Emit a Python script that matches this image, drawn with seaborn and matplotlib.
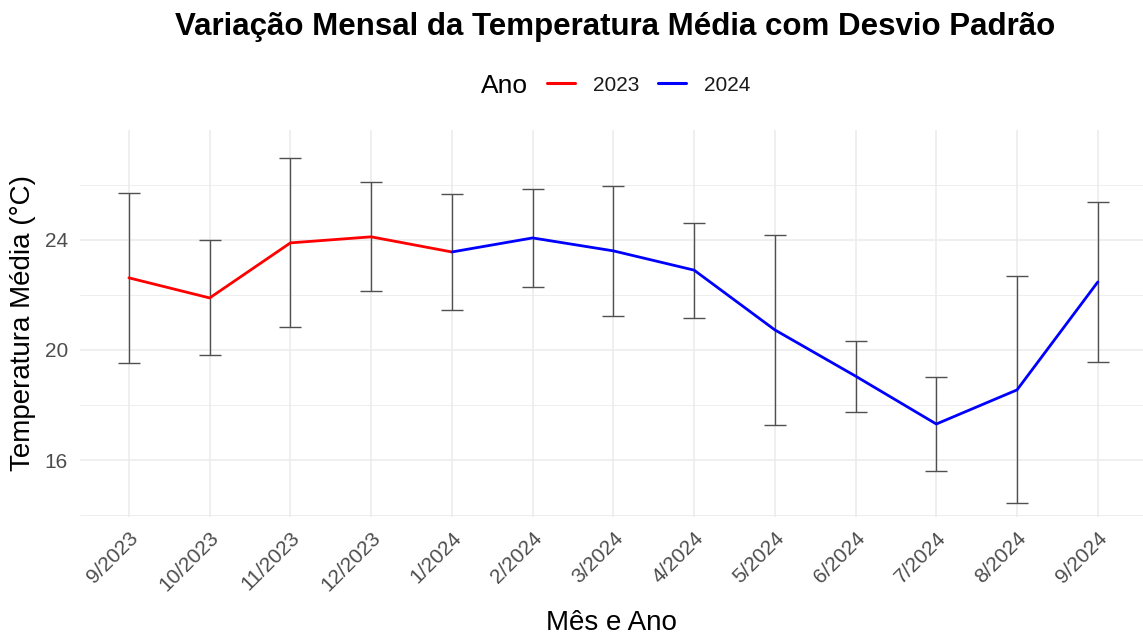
import matplotlib
matplotlib.use("Agg")
import matplotlib.pyplot as plt
import seaborn as sns
import pandas as pd
import numpy as np
from matplotlib.lines import Line2D

meses = ["9/2023", "10/2023", "11/2023", "12/2023", "1/2024", "2/2024", "3/2024",
         "4/2024", "5/2024", "6/2024", "7/2024", "8/2024", "9/2024"]
anos = ["2023", "2023", "2023", "2023", "2024", "2024", "2024",
        "2024", "2024", "2024", "2024", "2024", "2024"]
media = [22.62, 21.89, 23.89, 24.11, 23.56, 24.07, 23.60, 22.90, 20.73, 19.05, 17.31, 18.55, 22.47]
desvio = [3.08, 2.09, 3.07, 1.98, 2.10, 1.78, 2.35, 1.73, 3.44, 1.29, 1.70, 4.12, 2.91]

cores = {"2023": "#ff0000", "2024": "#0000ff"}

sns.set_theme(style="whitegrid")
plt.rcParams["font.family"] = ["Liberation Sans", "DejaVu Sans"]

df = pd.DataFrame({"mes": meses, "ano": anos, "media": media, "desvio": desvio})
df["pos"] = np.arange(len(df))

fig = plt.figure(figsize=(11.43, 6.36), dpi=100)
ax = fig.add_axes([0.0704, 0.187, 0.9296, 0.609])

# error bars
ax.errorbar(df["pos"], df["media"], yerr=df["desvio"], fmt="none",
            ecolor="#505050", elinewidth=1.0, capsize=8, capthick=1.0, zorder=2)

# line: each segment coloured by the year of its starting point
for ano in ["2023", "2024"]:
    idx = df.index[df["ano"] == ano].tolist()
    end = min(idx[-1] + 1, len(df) - 1)
    seg = df.iloc[idx[0]:end + 1]
    sns.lineplot(data=seg, x="pos", y="media", color=cores[ano], linewidth=2.0,
                 ax=ax, zorder=3, legend=False)

ax.set_xlim(-0.6, 12.56)
ax.set_ylim(13.93, 28.0)
ax.set_xticks(df["pos"])
ax.set_xticklabels(meses, rotation=45, ha="right", rotation_mode="anchor")
ax.set_yticks([16, 20, 24])
ax.set_yticks([14, 18, 22, 26], minor=True)
ax.tick_params(axis="both", which="both", length=0, labelsize=15, colors="#4d4d4d")
ax.tick_params(axis="x", pad=8)
ax.tick_params(axis="y", pad=9)
ax.grid(which="major", color="#ebebeb", linewidth=1.1)
ax.grid(which="minor", axis="y", color="#ebebeb", linewidth=0.6)
ax.grid(which="minor", axis="x", visible=False)
for s in ax.spines.values():
    s.set_visible(False)

ax.set_xlabel("Mês e Ano", fontsize=20, color="black", labelpad=11)
ax.set_ylabel("Temperatura Média (°C)", fontsize=20, color="black", labelpad=6)

fig.text(0.538, 0.958, "Variação Mensal da Temperatura Média com Desvio Padrão",
         ha="center", va="center", fontsize=22.5, fontweight="bold", color="black")

fig.text(481 / 1143, 0.864, "Ano", ha="left", va="center", fontsize=19, color="black")
handles = [Line2D([0], [0], color=cores[a], lw=2.2) for a in ["2023", "2024"]]
leg = fig.legend(handles, ["2023", "2024"], loc="center left",
                 bbox_to_anchor=(547 / 1143, 0.866), ncol=2, frameon=False,
                 fontsize=15, handlelength=1.35, borderaxespad=0, borderpad=0,
                 columnspacing=0.87, handletextpad=0.87)
for t in leg.get_texts():
    t.set_color("#1a1a1a")

fig.savefig("out.png", dpi=100)
